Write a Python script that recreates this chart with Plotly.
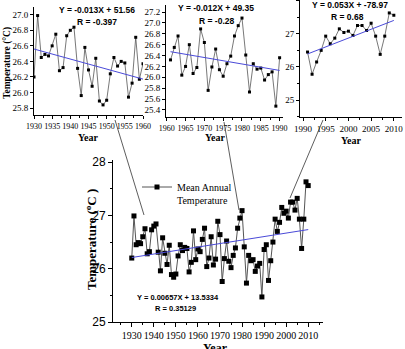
import numpy as np
import plotly.graph_objects as go

years = list(range(1930, 2011))
temps = [
    26.20, 26.99, 26.45, 26.49, 26.47, 26.60, 26.75, 26.28, 26.32, 26.73,  # 1930-1939
    26.80, 26.84, 26.31, 25.96, 26.58, 26.29, 26.08, 26.44, 25.89, 25.84,  # 1940-1949
    25.90, 26.24, 26.45, 26.34, 26.40, 26.38, 25.94, 26.12, 26.71, 26.17,  # 1950-1959
    26.37, 26.32, 26.55, 26.76, 26.04, 26.20, 26.60, 26.07, 26.18, 26.89,  # 1960-1969
    26.64, 25.76, 26.19, 26.52, 26.14, 26.02, 26.25, 26.39, 26.76, 26.95,  # 1970-1979
    27.09, 26.41, 25.73, 26.25, 26.15, 26.17, 25.95, 26.05, 26.10, 25.47,  # 1980-1989
    26.36, 26.45, 25.78, 26.15, 26.50, 26.93, 26.70, 26.87, 27.15, 27.04,  # 1990-1999
    27.08, 26.95, 27.25, 27.25, 27.10, 27.32, 26.93, 26.38, 26.93, 27.63,  # 2000-2009
    27.56,                                                                   # 2010
]

periods = [(1930, 1960), (1961, 1990), (1991, 2010)]
eq_texts = [("Y = -0.013X + 51.56", "R = -0.397"),
            ("Y = -0.012X + 49.35", "R = -0.28"),
            ("Y = 0.053X + -78.97", "R = 0.68")]
main_eq = ("Y = 0.00657X + 13.5334", "R = 0.35129")

W, H = 405, 349
def px(x): return x / W
def py(y): return 1 - y / H

SERIF = "Liberation Serif, Times New Roman, serif"
SANS = "Liberation Sans, Arial, sans-serif"
BLUE = "#4a4ad8"

yr = np.array(years)
tp = np.array(temps)

fig = go.Figure()

fig.add_trace(go.Scatter(x=years, y=temps, mode="lines+markers",
                         line=dict(color="#555555", width=1),
                         marker=dict(symbol="square", size=5, color="black"),
                         name="Mean Annual<br>Temperature", showlegend=True,
                         xaxis="x", yaxis="y"))
k, b = np.polyfit(yr, tp, 1)
fx = np.array([yr.min(), yr.max()])
fig.add_trace(go.Scatter(x=fx, y=k * fx + b, mode="lines", line=dict(color=BLUE, width=1),
                         showlegend=False, xaxis="x", yaxis="y"))

for i, (a, e) in enumerate(periods):
    m = (yr >= a) & (yr <= e)
    ax = str(i + 2)
    fig.add_trace(go.Scatter(x=yr[m], y=tp[m], mode="lines+markers",
                             line=dict(color="#555555", width=0.8),
                             marker=dict(symbol="square", size=3, color="black"),
                             showlegend=False, xaxis="x" + ax, yaxis="y" + ax))
    k, b = np.polyfit(yr[m], tp[m], 1)
    fx = np.array([a, e])
    fig.add_trace(go.Scatter(x=fx, y=k * fx + b, mode="lines", line=dict(color=BLUE, width=1),
                             showlegend=False, xaxis="x" + ax, yaxis="y" + ax))

def axstyle(**kw):
    d = dict(showline=True, linecolor="black", linewidth=1, ticks="outside", ticklen=4,
             tickcolor="black", showgrid=False, zeroline=False, mirror=False, tickangle=0,
             automargin=False)
    d.update(kw)
    return d

tf_small = dict(family=SERIF, size=9, color="black")
tf_x = dict(family=SERIF, size=8, color="black")
layout = dict(
    width=W, height=H, autosize=False,
    margin=dict(l=0, r=0, t=0, b=0),
    paper_bgcolor="white", plot_bgcolor="white",
    showlegend=True,
    legend=dict(x=px(137), y=py(174), xanchor="left", yanchor="top",
                bgcolor="rgba(0,0,0,0)", font=dict(family=SERIF, size=10, color="black"),
                itemwidth=30, valign="top", tracegroupgap=0),
    xaxis=axstyle(domain=[px(113), px(323)], range=[1921.5, 2016.7], anchor="y",
                  tickvals=list(range(1930, 2011, 10)), ticklen=4,
                  minor=dict(dtick=5, tick0=1930, ticks="outside", ticklen=2, tickcolor="black"),
                  tickfont=dict(family=SERIF, size=10, color="black")),
    yaxis=axstyle(domain=[py(322), py(160)], range=[25, 28.04], anchor="x",
                  tickvals=[25, 26, 27, 28],
                  minor=dict(dtick=0.5, ticks="outside", ticklen=2, tickcolor="black"),
                  tickfont=dict(family=SANS, size=12, color="black")),
    xaxis2=axstyle(domain=[px(34), px(143)], range=[1930, 1960], anchor="y2", dtick=5,
                   ticklen=3,
                   minor=dict(dtick=2.5, ticks="outside", ticklen=2, tickcolor="black"),
                   tickfont=tf_x),
    yaxis2=axstyle(domain=[py(115), py(7)], range=[25.71, 27.1], anchor="x2", dtick=0.2,
                   tick0=25.8, tickformat=".1f", ticklen=3, tickfont=tf_small),
    xaxis3=axstyle(domain=[px(166), px(283)], range=[1959.8, 1990.9], anchor="y3", dtick=5,
                   tick0=1960, ticklen=3,
                   minor=dict(dtick=2.5, ticks="outside", ticklen=2, tickcolor="black"),
                   tickfont=tf_x),
    yaxis3=axstyle(domain=[py(117), py(5)], range=[25.27, 27.33], anchor="x3", dtick=0.2,
                   tick0=25.4, tickformat=".1f", ticklen=3, tickfont=tf_small),
    xaxis4=axstyle(domain=[px(300), px(402)], range=[1989.34, 2011.8], anchor="y4", dtick=5,
                   tick0=1990, ticklen=3,
                   minor=dict(dtick=2.5, ticks="outside", ticklen=2, tickcolor="black"),
                   tickfont=tf_small),
    yaxis4=axstyle(domain=[py(117), 1.0], range=[24.49, 28.02], anchor="x4", dtick=1,
                   ticklen=3,
                   minor=dict(dtick=0.5, ticks="outside", ticklen=2, tickcolor="black"),
                   tickfont=tf_small),
)
fig.update_layout(**layout)

ann = []
def text(x, y, s, font, size, angle=0, bold=True):
    ann.append(dict(x=px(x), y=py(y), xref="paper", yref="paper", text=f"<b>{s}</b>" if bold else s,
                    showarrow=False, textangle=angle, xanchor="center", yanchor="middle",
                    font=dict(family=font, size=size, color="black")))

text(8, 63, "Temperature (°C)", SERIF, 9.5, angle=-90)
text(88, 137, "Year", SERIF, 10)
text(215, 137, "Year", SERIF, 10)
text(351, 140, "Year", SERIF, 10)
text(91, 240, "Temperature (<sup>o</sup>C )", SERIF, 13, angle=-90)
text(215, 348, "Year", SERIF, 12)

eq_pos = [((97, 10), (97, 22)), ((216, 8), (216, 21)), ((350, 5), (347, 17))]
for (l1, l2), ((x1, y1), (x2, y2)) in zip(eq_texts, eq_pos):
    text(x1, y1, l1, SANS, 8.5)
    text(x2, y2, l2, SANS, 8.5)
text(178, 297, main_eq[0], SANS, 7.5)
text(175, 308, main_eq[1], SANS, 7.5)
fig.update_layout(annotations=ann)

conn = [((115, 120), (144, 215)), ((224, 122), (239, 210)), ((323, 120), (290, 198))]
shapes = []
for (x0, y0), (x1, y1) in conn:
    shapes.append(dict(type="line", xref="paper", yref="paper",
                       x0=px(x0), y0=py(y0), x1=px(x1), y1=py(y1),
                       line=dict(color="#333333", width=0.8)))
fig.update_layout(shapes=shapes)

fig.write_html("out.html")
